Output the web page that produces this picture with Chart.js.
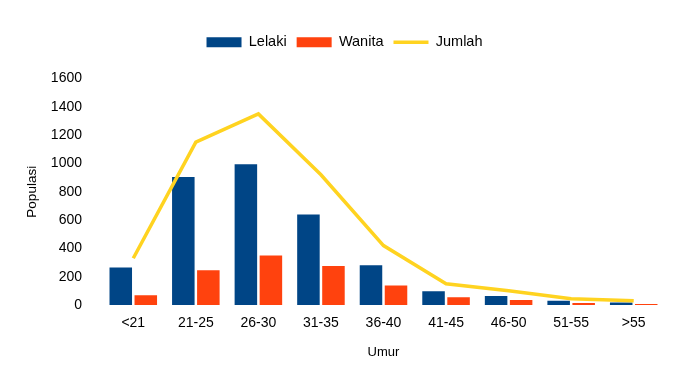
<!DOCTYPE html>
<html>
<head>
<meta charset="utf-8">
<script src="https://cdn.jsdelivr.net/npm/chart.js@4/dist/chart.umd.min.js"></script>
<style>
html,body{margin:0;padding:0;background:#fff;}
#wrap{width:694px;height:383px;}
</style>
</head>
<body>
<div id="wrap"><canvas id="c" width="694" height="383"></canvas></div>
<script>
const categories = ["<21","21-25","26-30","31-35","36-40","41-45","46-50","51-55",">55"];
const lelaki = [265, 905, 995, 640, 280, 98, 63, 30, 18];
const wanita = [68, 245, 350, 275, 138, 54, 35, 14, 7];
const jumlah = [330, 1150, 1350, 920, 420, 150, 100, 45, 30];
const yTicks = [0,200,400,600,800,1000,1200,1400,1600];

const font = {family: "'Liberation Sans', Arial, sans-serif", size: 14};

const legendMargin = {
  id:'legendMargin',
  beforeInit(chart){
    const fit = chart.legend.fit;
    chart.legend.fit = function(){ fit.call(this); this.height += 19; };
  }
};

new Chart(document.getElementById('c'), {
  data: {
    labels: categories,
    datasets: [
      {type:'bar', label:'Lelaki', data: lelaki, backgroundColor:'#004586', borderWidth:0, pointStyle:'rect', order:2},
      {type:'bar', label:'Wanita', data: wanita, backgroundColor:'#ff420e', borderWidth:0, pointStyle:'rect', order:2},
      {type:'line', label:'Jumlah', data: jumlah, borderColor:'#ffd320', backgroundColor:'#ffd320', borderWidth:3.5, pointRadius:0, pointStyle:'line', tension:0, order:1}
    ]
  },
  plugins:[legendMargin],
  options: {
    responsive:false,
    animation:false,
    layout:{padding:{left:24, right:29, top:25, bottom:19}},
    plugins:{
      legend:{
        position:'top',
        labels:{usePointStyle:true, pointStyleWidth:35, boxHeight:10, padding:10, color:'#000',
          font:{family:font.family, size:14.5},
          sort:(a,b)=>a.datasetIndex-b.datasetIndex},
      },
      tooltip:{enabled:false}
    },
    scales:{
      x:{
        grid:{display:false}, border:{display:false},
        categoryPercentage:0.67, barPercentage:1.0,
        ticks:{color:'#000', font:font, padding:2, maxRotation:0},
        title:{display:true, text:'Umur', color:'#000', font:{family:font.family, size:13}},
        afterFit:(s)=>{ s.height = 59; }
      },
      y:{
        min:0, max:1600,
        grid:{display:false}, border:{display:false},
        afterBuildTicks:(s)=>{ s.ticks = yTicks.map(v=>({value:v})); },
        ticks:{color:'#000', font:font, padding:12, callback:(v)=>String(v)},
        title:{display:true, text:'Populasi', color:'#000', font:{family:font.family, size:13.5}, padding:{top:0, bottom:4}},
        afterFit:(s)=>{ s.width = 78; }
      }
    }
  }
});
</script>
</body>
</html>
